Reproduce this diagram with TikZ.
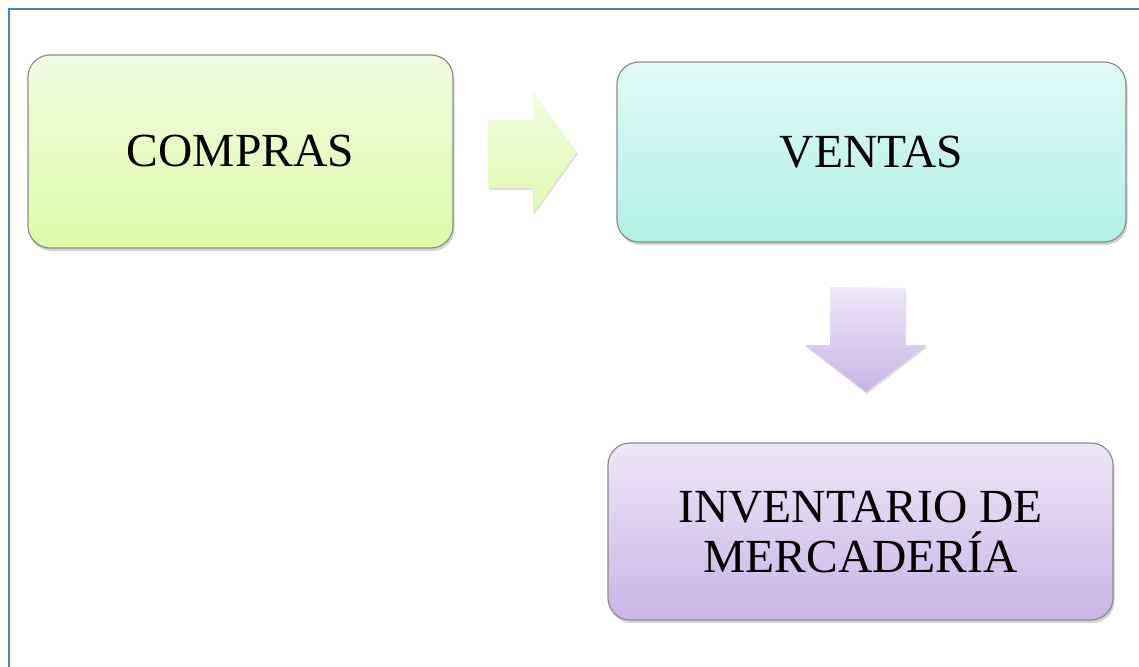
\documentclass[tikz,border=0pt]{standalone}
\usepackage{fontspec}
\setmainfont{Liberation Serif}
\usetikzlibrary{shadows,shapes.arrows}
\definecolor{frameblue}{HTML}{4F81BD}
\tikzset{
  block/.style={draw=black!45, line width=1.2pt, rounded corners=22pt,
    drop shadow={shadow xshift=1.5pt, shadow yshift=-3pt, opacity=0.35},
    align=center, inner sep=0pt,
    font=\fontsize{47.5}{50}\selectfont},
  blockarrow/.style={draw=none,
    drop shadow={shadow xshift=1pt, shadow yshift=-2pt, opacity=0.25}},
}
\begin{document}
\begin{tikzpicture}[x=1pt,y=-1pt]
  \useasboundingbox (0,0) rectangle (1139,666);
  % page frame
  \draw[frameblue, line width=2pt] (8.5,672) -- (8.5,9.5) -- (1145,9.5);

  % process boxes
  \node[block, minimum width=425pt, minimum height=193pt,
        top color={rgb,255:red,241;green,252;blue,226},
        bottom color={rgb,255:red,220;green,251;blue,166}]
        (compras) at (240.5,151.5) {COMPRAS};
  \node[block, minimum width=509pt, minimum height=180pt,
        top color={rgb,255:red,226;green,250;blue,246},
        bottom color={rgb,255:red,176;green,240;blue,230}]
        (ventas) at (871.5,152) {VENTAS};
  \node[block, minimum width=505pt, minimum height=177pt,
        top color={rgb,255:red,237;green,231;blue,247},
        bottom color={rgb,255:red,201;green,180;blue,230}]
        (inventario) at (860.5,531.5) {INVENTARIO DE\\MERCADERÍA};

  % block arrows between the boxes
  \path[blockarrow,
        top color={rgb,255:red,240;green,252;blue,222},
        bottom color={rgb,255:red,222;green,250;blue,178}]
    (488,120) -- (533,120) -- (533,92) -- (577,152) -- (533,213)
    -- (533,188) -- (488,188) -- cycle;
  \path[blockarrow,
        top color={rgb,255:red,238;green,233;blue,247},
        bottom color={rgb,255:red,200;green,180;blue,231}]
    (830,287) -- (905,288) -- (905,345) -- (927,345) -- (866,392)
    -- (805,345) -- (830,345) -- cycle;
\end{tikzpicture}
\end{document}
